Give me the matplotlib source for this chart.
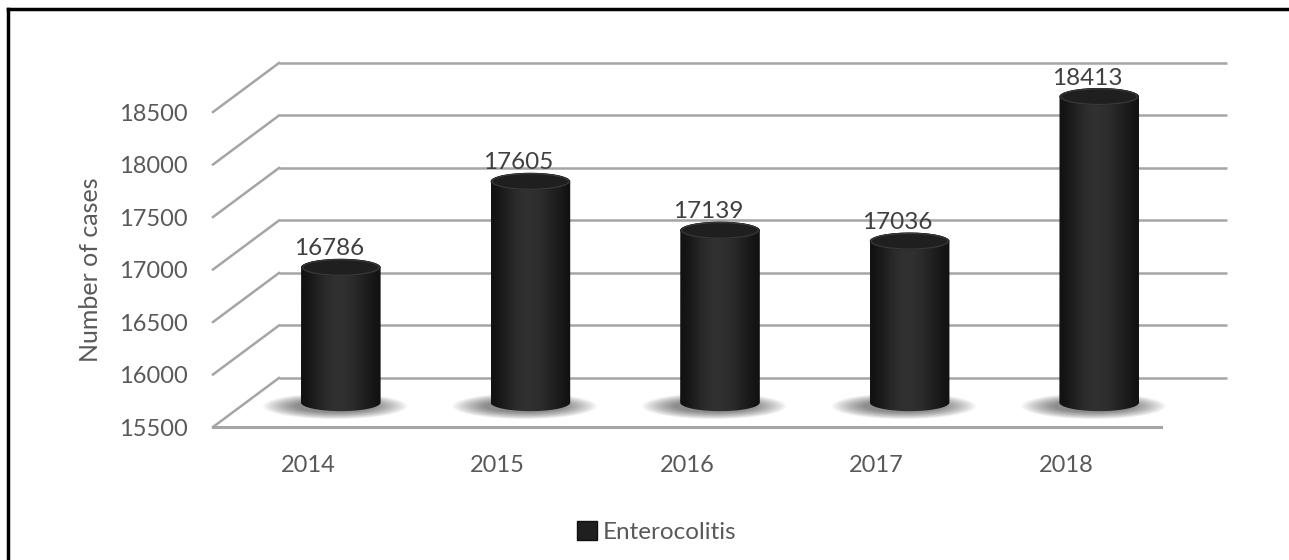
import matplotlib
matplotlib.use('Agg')
import matplotlib.pyplot as plt
import numpy as np
from matplotlib.patches import Ellipse, PathPatch, Patch
from matplotlib.path import Path

plt.rcParams['font.family'] = ['Lato', 'DejaVu Sans']

years = ['2014', '2015', '2016', '2017', '2018']
cases = [16786, 17605, 17139, 17036, 18413]
y_ticks = [15500, 16000, 16500, 17000, 17500, 18000, 18500]
series_name = 'Enterocolitis'

# fake 3D depth (in data units): category units and value units
DX = 0.348
DY = 467
GRID = '#a5a5a5'
TXT = '#595959'

fig = plt.figure(figsize=(12.89, 5.60), dpi=100)
W, H = 1289, 560
ax = fig.add_axes([213 / W, 1 - 427 / H, (1227 - 213) / W, (427 - 63) / H])
ax.set_xlim(-0.5, 4.5 + DX)
ax.set_ylim(y_ticks[0], y_ticks[-1] + DY)
for s in ax.spines.values():
    s.set_visible(False)

# walls: back gridlines and left-side diagonals
for v in y_ticks:
    ax.plot([-0.5 + DX, 4.5 + DX], [v + DY, v + DY], color=GRID, lw=1.8,
            solid_capstyle='butt', zorder=1, clip_on=False)
    ax.plot([-0.5, -0.5 + DX], [v, v + DY], color=GRID, lw=1.8, zorder=1, clip_on=False)
# floor front edge
ax.plot([-0.5, 4.5], [y_ticks[0], y_ticks[0]], color=GRID, lw=2.2, zorder=1, clip_on=False)

# cylinders
hw = 0.21
eh = 165
base = y_ticks[0] + DY / 2
grad = np.array([[0.07, 0.10, 0.14, 0.17, 0.19, 0.19, 0.18, 0.16, 0.13, 0.10, 0.07]])
for i, v in enumerate(cases):
    cx = i + DX / 2
    top = v + DY / 2

    # soft shadow on the floor
    for k in range(14):
        sh = Ellipse((cx - 0.03, base - 35), 2 * hw + 0.34 - k * 0.026, eh * 1.5 - k * 10,
                     color='#000000', alpha=0.04, lw=0, zorder=2)
        ax.add_patch(sh)

    t1 = np.linspace(np.pi, 2 * np.pi, 40)
    t2 = np.linspace(0, np.pi, 40)
    xs = np.concatenate([cx + hw * np.cos(t1), cx + hw * np.cos(t2)])
    ys = np.concatenate([base + eh / 2 * np.sin(t1), top + eh / 2 * np.sin(t2)])
    body = PathPatch(Path(np.column_stack([xs, ys]), closed=True), fc='none', ec='none')
    ax.add_patch(body)
    im = ax.imshow(grad, cmap='gray', vmin=0, vmax=1, aspect='auto', interpolation='bicubic',
                   extent=[cx - hw, cx + hw, base - eh, top + eh], zorder=3)
    im.set_clip_path(body)

    cap = Ellipse((cx, top), 2 * hw, eh, fc='#1f1f1f', ec='none', zorder=4)
    ax.add_patch(cap)
    rim = Ellipse((cx, top), 2 * hw * 0.96, eh * 0.9, fc='none', ec='#3a3a3a', lw=0.8,
                  zorder=4)
    ax.add_patch(rim)

    ax.text(i + 0.11, v + 410, f'{v}', ha='center', va='center', fontsize=17.5,
            color='#404040', zorder=6)

ax.set_xticks(range(len(years)))
ax.set_xticklabels(years)
ax.set_yticks(y_ticks)
ax.set_yticklabels([str(t) for t in y_ticks])
ax.tick_params(axis='both', length=0, labelsize=17, labelcolor=TXT)
ax.tick_params(axis='y', pad=18)
ax.tick_params(axis='x', pad=20)
ax.set_ylabel('Number of cases', fontsize=18, color=TXT)
ax.yaxis.set_label_coords(-0.109, 0.431)

handle = Patch(fc='#1f1f1f', ec='#101010')
fig.legend([handle], [series_name], loc='center', bbox_to_anchor=(657 / W, 1 - 532 / H),
           frameon=False, fontsize=17.5, labelcolor=TXT, handlelength=0.8, handleheight=0.8,
           handletextpad=0.25)

# outer border (left and top visible)
fig.add_artist(plt.Line2D([8 / W, 8 / W], [0, 1 - 9 / H], color='black', lw=2.5,
                          transform=fig.transFigure))
fig.add_artist(plt.Line2D([8 / W, 1], [1 - 9 / H, 1 - 9 / H], color='black', lw=2.5,
                          transform=fig.transFigure))

fig.savefig('out.png', dpi=100)
